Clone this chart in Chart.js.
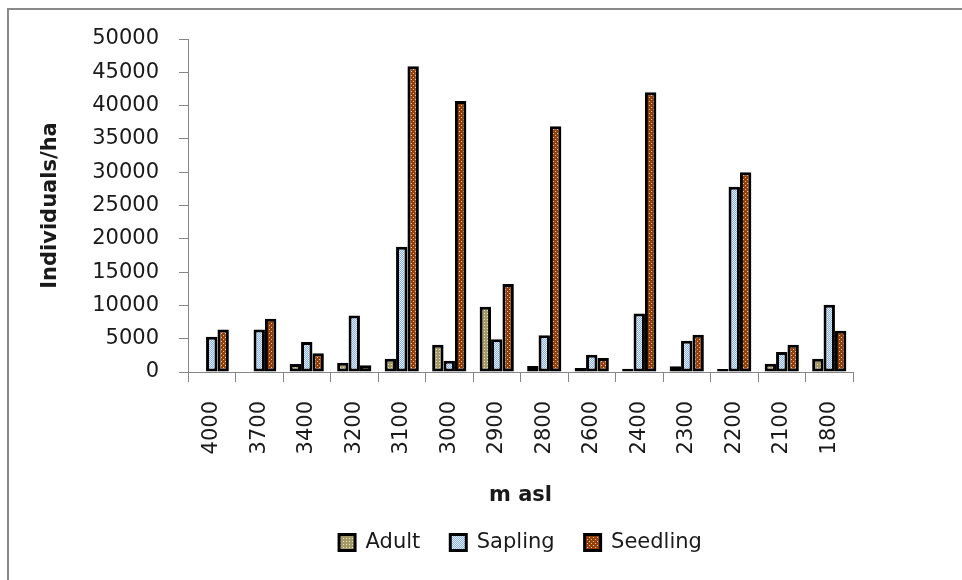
<!DOCTYPE html>
<html lang="en">
<head>
    <meta charset="UTF-8">
    <title>Individuals/ha by elevation</title>
    <script src="https://cdn.jsdelivr.net/npm/chart.js"></script>
    <style>
        html, body { margin: 0; padding: 0; background: #fff; }
        #wrap { width: 962px; height: 580px; }
    </style>
</head>
<body>
    <div id="wrap"><canvas id="densityChart" width="962" height="580"></canvas></div>
    <script>
        // elevations (m asl) and densities
        const elevations = ['4000', '3700', '3400', '3200', '3100', '3000', '2900', '2800', '2600', '2400', '2300', '2200', '2100', '1800'];
        const adult = [0, 0, 1200, 1400, 2000, 4100, 9800, 900, 600, 500, 850, 450, 1250, 2000];
        const sapling = [5300, 6400, 4500, 8500, 18800, 1700, 4900, 5500, 2600, 8800, 4700, 27800, 3000, 10100];
        const seedling = [6400, 8000, 2800, 1000, 45900, 40700, 13200, 36900, 2100, 42000, 5600, 30000, 4100, 6200];

        // small tiled fills, like the Excel pattern fills
        function makePattern(size, base, dot, dots) {
            const c = document.createElement('canvas');
            c.width = size; c.height = size;
            const g = c.getContext('2d');
            g.fillStyle = base;
            g.fillRect(0, 0, size, size);
            g.fillStyle = dot;
            dots.forEach(d => g.fillRect(d[0], d[1], 1, 1));
            return g.createPattern(c, 'repeat');
        }

        const ctx = document.getElementById('densityChart').getContext('2d');
        const adultFill = makePattern(3, '#a39a68', '#e2ddbd', [[1, 1]]);
        const saplingFill = makePattern(2, '#89b0e3', '#e4eefa', [[0, 0], [1, 1]]);
        const seedlingFill = makePattern(4, '#943e08', '#eccbb0', [[1, 1], [3, 3]]);

        // grey outline around the whole figure
        const frame = {
            id: 'frame',
            afterDraw(chart) {
                const c = chart.ctx;
                c.save();
                c.fillStyle = '#8a8a8a';
                c.fillRect(7, 8, 2, 572);
                c.fillRect(7, 8, 955, 2);
                c.restore();
            }
        };

        const axisGrey = '#868686';
        const font = 'DejaVu Sans';

        new Chart(ctx, {
            type: 'bar',
            data: {
                labels: elevations,
                datasets: [
                    { label: 'Adult', data: adult, backgroundColor: adultFill },
                    { label: 'Sapling', data: sapling, backgroundColor: saplingFill },
                    { label: 'Seedling', data: seedling, backgroundColor: seedlingFill }
                ]
            },
            options: {
                responsive: false,
                animation: false,
                layout: { padding: { left: 38, right: 109, top: 39, bottom: 17 } },
                datasets: {
                    bar: {
                        borderColor: '#000',
                        borderWidth: 3,
                        borderSkipped: false,
                        categoryPercentage: 0.72,
                        barPercentage: 1
                    }
                },
                plugins: {
                    tooltip: { enabled: false },
                    legend: {
                        position: 'bottom',
                        fullSize: false,
                        maxHeight: 80,
                        labels: {
                            boxWidth: 16,
                            boxHeight: 16,
                            padding: 30,
                            color: '#1a1a1a',
                            font: { family: font, size: 21 }
                        }
                    }
                },
                scales: {
                    x: {
                        grid: { display: true, drawOnChartArea: false, offset: true, color: axisGrey, tickLength: 10 },
                        border: { color: axisGrey },
                        ticks: {
                            color: '#1a1a1a',
                            font: { family: font, size: 21 },
                            minRotation: 90,
                            maxRotation: 90,
                            padding: 19
                        },
                        title: {
                            display: true,
                            text: 'm asl',
                            color: '#1a1a1a',
                            font: { family: font, size: 21, weight: 'bold' },
                            padding: { top: 0, bottom: -6 }
                        },
                        afterFit(scale) { scale.height = 130; }
                    },
                    y: {
                        min: 0,
                        max: 50000,
                        grid: { display: true, drawOnChartArea: false, color: axisGrey, tickLength: 9 },
                        border: { color: axisGrey },
                        ticks: {
                            stepSize: 5000,
                            color: '#1a1a1a',
                            font: { family: font, size: 21 },
                            padding: 20,
                            callback: v => String(v)
                        },
                        title: {
                            display: true,
                            text: 'Individuals/ha',
                            color: '#1a1a1a',
                            font: { family: font, size: 21, weight: 'bold' },
                            padding: 0
                        },
                        afterFit(scale) { scale.width = 150; }
                    }
                }
            },
            plugins: [frame]
        });
    </script>
</body>
</html>
